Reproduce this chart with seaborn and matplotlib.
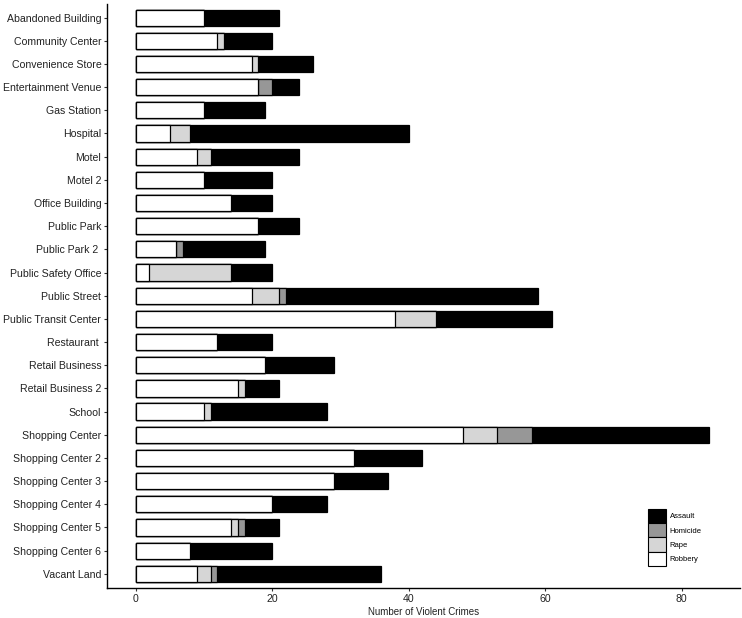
import pandas as pd
import seaborn as sns
import numpy as np
import matplotlib.pyplot as plt
from matplotlib.patches import Patch

# categories, top to bottom
locations = [
    'Abandoned Building', 'Community Center', 'Convenience Store',
    'Entertainment Venue', 'Gas Station', 'Hospital', 'Motel', 'Motel 2',
    'Office Building', 'Public Park', 'Public Park 2 ', 'Public Safety Office',
    'Public Street', 'Public Transit Center', 'Restaurant ', 'Retail Business',
    'Retail Business 2', 'School', 'Shopping Center', 'Shopping Center 2',
    'Shopping Center 3', 'Shopping Center 4', 'Shopping Center 5',
    'Shopping Center 6', 'Vacant Land',
]

# counts per crime type
robbery  = [10, 12, 17, 18, 10, 5, 9, 10, 14, 18, 6, 2, 17, 38, 12, 19, 15, 10, 48, 32, 29, 20, 14, 8, 9]
rape     = [0, 1, 1, 0, 0, 3, 2, 0, 0, 0, 0, 12, 4, 6, 0, 0, 1, 1, 5, 0, 0, 0, 1, 0, 2]
homicide = [0, 0, 0, 2, 0, 0, 0, 0, 0, 0, 1, 0, 1, 0, 0, 0, 0, 0, 5, 0, 0, 0, 1, 0, 1]
assault  = [11, 7, 8, 4, 9, 32, 13, 10, 6, 6, 12, 6, 37, 17, 8, 10, 5, 17, 26, 10, 8, 8, 5, 12, 24]

crimes = pd.DataFrame({
    'location': locations,
    'Robbery': robbery,
    'Rape': rape,
    'Homicide': homicide,
    'Assault': assault,
})

# cumulative sums so the bars can be layered into a stack
crimes['c_robbery'] = crimes['Robbery']
crimes['c_rape'] = crimes['c_robbery'] + crimes['Rape']
crimes['c_homicide'] = crimes['c_rape'] + crimes['Homicide']
crimes['c_assault'] = crimes['c_homicide'] + crimes['Assault']

colors = {'Assault': 'black', 'Homicide': '#979797', 'Rape': '#d6d6d6', 'Robbery': 'white'}

plt.rcParams['font.family'] = ['Liberation Sans', 'DejaVu Sans']

fig = plt.figure(figsize=(7.42, 6.18), dpi=100)
ax = fig.add_axes([0.144, 0.049, 0.853, 0.945])

# draw widest layer first, narrower layers on top
for col, name in [('c_assault', 'Assault'), ('c_homicide', 'Homicide'),
                  ('c_rape', 'Rape'), ('c_robbery', 'Robbery')]:
    sns.barplot(
        data=crimes, x=col, y='location', order=locations,
        color=colors[name], edgecolor='black', linewidth=0.9,
        width=0.7, orient='h', ax=ax, saturation=1,
    )

ax.set_xlim(-4.2, 88.5)
ax.set_ylim(len(locations) - 0.4, -0.6)
ax.set_xticks([0, 20, 40, 60, 80])
ax.set_xlabel('Number of Violent Crimes', fontsize=7, labelpad=2, color='#222222')
ax.set_ylabel('')
ax.tick_params(axis='y', labelsize=7.6, length=2.5, width=0.8, pad=1.5, colors='#333333')
ax.tick_params(axis='x', labelsize=7.6, length=2.5, width=0.8, pad=2, colors='#333333')
for lbl in ax.get_yticklabels() + ax.get_xticklabels():
    lbl.set_color('#222222')

for side in ['top', 'right']:
    ax.spines[side].set_visible(False)
for side in ['left', 'bottom']:
    ax.spines[side].set_linewidth(1.0)
    ax.spines[side].set_color('black')

handles = [Patch(facecolor=colors[n], edgecolor='black', linewidth=0.8, label=n)
           for n in ['Assault', 'Homicide', 'Rape', 'Robbery']]
ax.legend(handles=handles, loc='lower right', bbox_to_anchor=(0.948, 0.028),
          frameon=False, fontsize=5.5, handlelength=2.3, handleheight=2.5,
          handletextpad=0.5, labelspacing=0.0, borderpad=0.2)

fig.savefig('out.png', dpi=100)
plt.close()
